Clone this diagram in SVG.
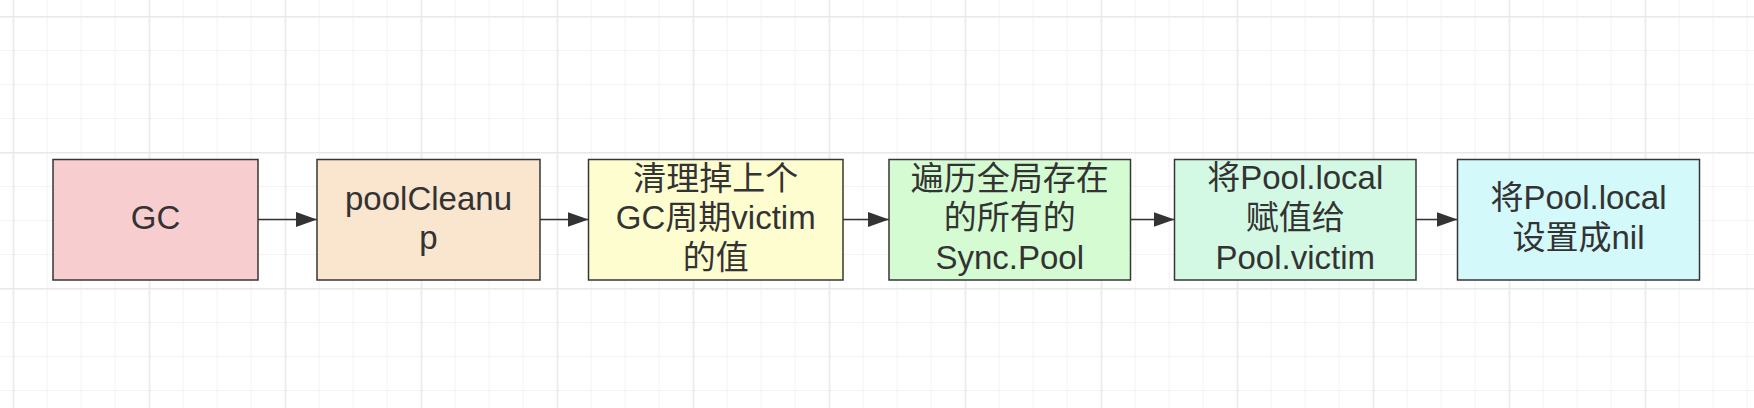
<svg xmlns="http://www.w3.org/2000/svg" width="1754" height="408" viewBox="0 0 1754 408">
  <defs>
    <style>
      .box { stroke: #363636; stroke-width: 1.5; }
      .lbl { font-family: "Liberation Sans", "Noto Sans CJK SC", sans-serif; font-size: 33px; fill: #333333; text-anchor: middle; }
      .conn { stroke: #333333; stroke-width: 1.5; fill: none; }
    </style>
    <marker id="arr" markerWidth="22" markerHeight="15" refX="21" refY="7.5" orient="auto" markerUnits="userSpaceOnUse">
      <path d="M0,0 L21,7.5 L0,15 Z" fill="#333333"/>
    </marker>
    <pattern id="grid" patternUnits="userSpaceOnUse" x="12.7" y="16" width="136" height="136">
      <rect x="0" y="0" width="136" height="136" fill="#ffffff"/>
      <rect x="34" y="0" width="1" height="136" fill="#f3f3f3"/>
      <rect x="68" y="0" width="1" height="136" fill="#f3f3f3"/>
      <rect x="102" y="0" width="1" height="136" fill="#f3f3f3"/>
      <rect x="0" y="34" width="136" height="1" fill="#f3f3f3"/>
      <rect x="0" y="68" width="136" height="1" fill="#f3f3f3"/>
      <rect x="0" y="102" width="136" height="1" fill="#f3f3f3"/>
      <rect x="0" y="0" width="1.5" height="136" fill="#e8e8e8"/>
      <rect x="0" y="0" width="136" height="1.5" fill="#e8e8e8"/>
    </pattern>
  </defs>
  <rect x="0" y="0" width="1754" height="408" fill="url(#grid)"/>

  <g id="connectors">
    <line class="conn" x1="258" y1="219.5" x2="317" y2="219.5" marker-end="url(#arr)"/>
    <line class="conn" x1="540" y1="219.5" x2="588.5" y2="219.5" marker-end="url(#arr)"/>
    <line class="conn" x1="843" y1="219.5" x2="889" y2="219.5" marker-end="url(#arr)"/>
    <line class="conn" x1="1130.5" y1="219.5" x2="1174.5" y2="219.5" marker-end="url(#arr)"/>
    <line class="conn" x1="1416" y1="219.5" x2="1457.5" y2="219.5" marker-end="url(#arr)"/>
  </g>

  <g id="node-gc">
    <rect class="box" x="53" y="159.5" width="205" height="120.5" fill="#f8cdcf"/>
    <text class="lbl" x="155.5" y="229.3">GC</text>
  </g>
  <g id="node-poolcleanup">
    <rect class="box" x="317" y="159.5" width="223" height="120.5" fill="#fae5cf"/>
    <text class="lbl" x="428.5" y="209.5">poolCleanu</text>
    <text class="lbl" x="428.5" y="249">p</text>
  </g>
  <g id="node-clear-victim">
    <rect class="box" x="588.5" y="159.5" width="254.5" height="120.5" fill="#fefdd0"/>
    <text class="lbl" x="715.75" y="189.8">清理掉上个</text>
    <text class="lbl" x="715.75" y="229.3">GC周期victim</text>
    <text class="lbl" x="715.75" y="268.8">的值</text>
  </g>
  <g id="node-iterate-pools">
    <rect class="box" x="889" y="159.5" width="241.5" height="120.5" fill="#d5fbd2"/>
    <text class="lbl" x="1009.75" y="189.8">遍历全局存在</text>
    <text class="lbl" x="1009.75" y="229.3">的所有的</text>
    <text class="lbl" x="1009.75" y="268.8">Sync.Pool</text>
  </g>
  <g id="node-assign-victim">
    <rect class="box" x="1174.5" y="159.5" width="241.5" height="120.5" fill="#d3f9e5"/>
    <text class="lbl" x="1295.25" y="189.3">将Pool.local</text>
    <text class="lbl" x="1295.25" y="229.3">赋值给</text>
    <text class="lbl" x="1295.25" y="269.3">Pool.victim</text>
  </g>
  <g id="node-set-nil">
    <rect class="box" x="1457.5" y="159.5" width="242" height="120.5" fill="#d3f9fb"/>
    <text class="lbl" x="1578.5" y="209.3">将Pool.local</text>
    <text class="lbl" x="1578.5" y="248.8">设置成nil</text>
  </g>
</svg>
